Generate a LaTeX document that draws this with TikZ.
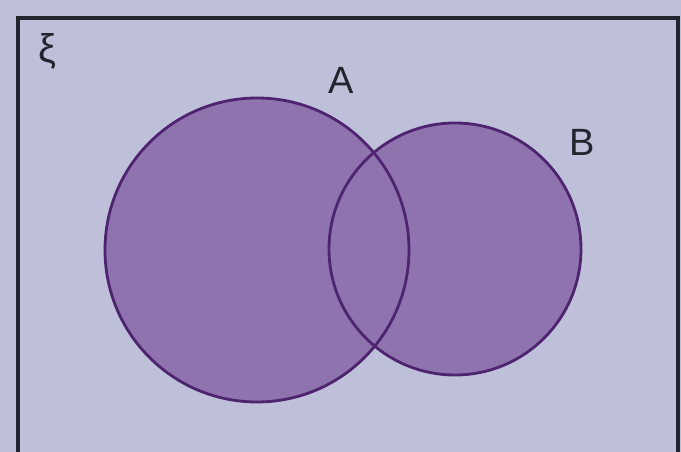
\documentclass[tikz,border=0pt]{standalone}
\usepackage{fontspec}
\setsansfont{Liberation Sans}
\usepackage{xcolor}
\definecolor{paper}{HTML}{BDC0D8}
\definecolor{setfill}{HTML}{8F73AE}
\definecolor{setline}{HTML}{4E2470}
\definecolor{ink}{HTML}{22242E}
\tikzset{
  setcircle/.style={circle, inner sep=0pt, fill=setfill},
  setlabel/.style={text=ink, font=\sffamily\fontsize{38}{38}\selectfont, inner sep=0pt}
}

\begin{document}
\begin{tikzpicture}[x=1pt, y=1pt]

    % ── Page and universal set ───────────────────────────────────────────────
    \fill [paper] (0,0) rectangle (681,452);
    \useasboundingbox (0,0) rectangle (681,452);
    \draw [ink, line width=3.5pt] (18,-10) -- (18,434) -- (678,434) -- (678,-10);
    \node (xi) [text=ink, font=\sffamily\fontsize{40}{40}\selectfont, inner sep=0pt]
        at (47,401) {ξ};

    % ── Sets ─────────────────────────────────────────────────────────────────
    \node (setA) [setcircle, minimum size=304pt] at (257,202) {};
    \node (setB) [setcircle, minimum size=252pt] at (455,203) {};
    \draw [setline, line width=2.8pt] (setA.center) circle (152);
    \draw [setline, line width=2.8pt] (setB.center) circle (126);

    % ── Labels ───────────────────────────────────────────────────────────────
    \node (labA) [setlabel] at (341,372) {A};
    \node (labB) [setlabel] at (582,310) {B};

\end{tikzpicture}
\end{document}
